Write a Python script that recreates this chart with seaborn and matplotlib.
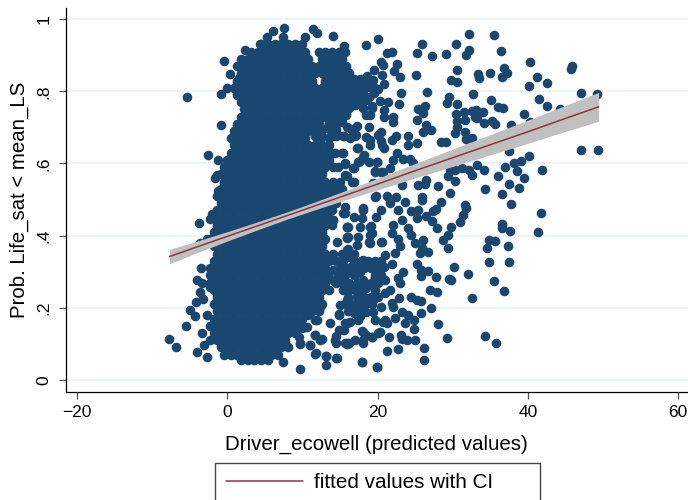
"""Scatter of life-satisfaction probability against predicted Driver_ecowell."""

import matplotlib
matplotlib.use("Agg")
import matplotlib.pyplot as plt
import pandas as pd
import seaborn as sns

# solid core of the cloud, read row by row: one y level and the x values on it
dense_levels = [.93, .91, .89, .87, .85, .83, .81, .79, .77, .75, .73, .71, .69, .67, .65, .63,
                .61, .59, .57, .55, .53, .51, .49, .47, .45, .43, .41, .39, .37, .35, .33, .31,
                .29, .27, .25, .23, .21, .19, .17, .15, .13, .11, .09, .07, .055]
dense_x = [
    [4.5, 5.4, 6.3, 7.2, 8.1, 9.0, 9.9],
    [3.15, 4.05, 4.95, 5.85, 6.75, 7.65, 8.55, 9.45, 10.35, 12.15, 13.05, 13.95, 14.85, 15.6],
    [1.8, 2.7, 3.6, 4.5, 5.4, 6.3, 7.2, 8.1, 9.0, 9.9, 10.8, 12.6, 13.5, 14.4, 15.3],
    [1.35, 2.25, 3.15, 4.05, 4.95, 5.85, 6.75, 7.65, 8.55, 9.45, 10.35, 11.25, 12.15, 13.05, 13.95, 14.85, 15.75],
    [1.8, 2.7, 3.6, 4.5, 5.4, 6.3, 7.2, 8.1, 9.0, 9.9, 10.8, 11.7, 12.6, 13.5, 14.4, 15.3, 16.2],
    [1.35, 2.25, 3.15, 4.05, 4.95, 5.85, 6.75, 7.65, 8.55, 9.45, 10.35, 11.25, 13.05, 13.95, 14.85, 15.75, 16.5],
    [0.9, 1.8, 2.7, 3.6, 4.5, 5.4, 6.3, 7.2, 8.1, 9.0, 9.9, 10.8, 11.7, 12.6, 13.5, 14.4, 15.3],
    [1.35, 2.25, 3.15, 4.05, 4.95, 5.85, 6.75, 7.65, 8.55, 9.45, 10.35, 11.25, 12.15, 13.05, 13.95, 14.85],
    [1.8, 2.7, 3.6, 4.5, 5.4, 6.3, 7.2, 8.1, 9.0, 9.9, 10.8, 11.7, 12.6, 13.5, 14.4],
    [2.25, 3.15, 4.05, 4.95, 5.85, 6.75, 7.65, 8.55, 9.45, 10.35, 11.25, 12.15, 13.05, 13.95],
    [1.8, 2.7, 3.6, 4.5, 5.4, 6.3, 7.2, 8.1, 9.0, 9.9, 10.8, 11.7, 12.6, 13.5],
    [1.35, 2.25, 3.15, 4.05, 4.95, 5.85, 6.75, 7.65, 8.55, 9.45, 10.35, 11.25, 12.15, 13.5],
    [0.9, 1.8, 2.7, 3.6, 4.5, 5.4, 6.3, 7.2, 8.1, 9.0, 9.9, 10.8, 11.7],
    [0.45, 1.35, 2.25, 3.15, 4.05, 4.95, 5.85, 6.75, 7.65, 8.55, 9.45, 10.35, 12.5, 13.5],
    [0.9, 1.8, 2.7, 3.6, 4.5, 5.4, 6.3, 7.2, 8.1, 9.0, 9.9, 10.8],
    [0.45, 1.35, 2.25, 3.15, 4.05, 4.95, 5.85, 6.75, 7.65, 8.55, 9.45, 10.35, 11.25],
    [0.0, 0.9, 1.8, 2.7, 3.6, 4.5, 5.4, 6.3, 7.2, 8.1, 9.0, 9.9, 10.8, 11.7],
    [-0.45, 0.45, 1.35, 2.25, 3.15, 4.05, 4.95, 5.85, 6.75, 7.65, 8.55, 9.45, 10.35],
    [-0.9, 0.0, 0.9, 1.8, 2.7, 3.6, 4.5, 5.4, 6.3, 7.2, 8.1, 9.0, 9.9, 10.8],
    [-0.45, 0.45, 1.35, 2.25, 3.15, 4.05, 4.95, 5.85, 6.75, 7.65, 8.55, 9.45, 10.35, 11.25],
    [-0.9, 0.0, 0.9, 1.8, 2.7, 3.6, 4.5, 5.4, 6.3, 7.2, 8.1, 9.0, 9.9, 10.8, 11.7],
    [-1.35, -0.45, 0.45, 1.35, 2.25, 3.15, 4.05, 4.95, 5.85, 6.75, 7.65, 8.55, 9.45, 10.35, 11.25, 12.15],
    [-0.9, 0.0, 0.9, 1.8, 2.7, 3.6, 4.5, 5.4, 6.3, 7.2, 8.1, 9.0, 9.9, 10.8, 11.7, 12.6],
    [-1.35, -0.45, 0.45, 1.35, 2.25, 3.15, 4.05, 4.95, 5.85, 6.75, 7.65, 8.55, 9.45, 10.35, 11.25, 12.15],
    [-1.8, -0.9, 0.0, 0.9, 1.8, 2.7, 3.6, 4.5, 5.4, 6.3, 7.2, 8.1, 9.0, 9.9, 10.8, 11.7, 12.6],
    [-1.35, -0.45, 0.45, 1.35, 2.25, 3.15, 4.05, 4.95, 5.85, 6.75, 7.65, 8.55, 9.45, 10.35, 11.25, 12.15, 13.05],
    [-1.8, -0.9, 0.0, 0.9, 1.8, 2.7, 3.6, 4.5, 5.4, 6.3, 7.2, 8.1, 9.0, 9.9, 10.8, 11.7, 12.6],
    [-2.25, -1.35, -0.45, 0.45, 1.35, 2.25, 3.15, 4.05, 4.95, 5.85, 6.75, 7.65, 8.55, 9.45, 10.35, 11.25, 12.15, 13.05],
    [-1.8, -0.9, 0.0, 0.9, 1.8, 2.7, 3.6, 4.5, 5.4, 6.3, 7.2, 8.1, 9.0, 9.9, 10.8, 11.7, 12.6],
    [-1.35, -0.45, 0.45, 1.35, 2.25, 3.15, 4.05, 4.95, 5.85, 6.75, 7.65, 8.55, 9.45, 10.35, 11.25, 12.15],
    [-1.8, -0.9, 0.0, 0.9, 1.8, 2.7, 3.6, 4.5, 5.4, 6.3, 7.2, 8.1, 9.0, 9.9, 10.8, 11.7],
    [-2.25, -1.35, -0.45, 0.45, 1.35, 2.25, 3.15, 4.05, 4.95, 5.85, 6.75, 7.65, 8.55, 9.45, 10.35, 11.25],
    [-1.8, -0.9, 0.0, 0.9, 1.8, 2.7, 3.6, 4.5, 5.4, 6.3, 7.2, 8.1, 9.0, 9.9, 10.8],
    [-2.25, -1.35, -0.45, 0.45, 1.35, 2.25, 3.15, 4.05, 4.95, 5.85, 6.75, 7.65, 8.55, 9.45, 10.35, 11.25],
    [-1.8, -0.9, 0.0, 0.9, 1.8, 2.7, 3.6, 4.5, 5.4, 6.3, 7.2, 8.1, 9.0, 9.9, 10.8],
    [-1.35, -0.45, 0.45, 1.35, 2.25, 3.15, 4.05, 4.95, 5.85, 6.75, 7.65, 8.55, 9.45, 10.35],
    [-1.8, -0.9, 0.0, 0.9, 1.8, 2.7, 3.6, 4.5, 5.4, 6.3, 7.2, 8.1, 9.0, 9.9, 10.8],
    [-1.35, -0.45, 0.45, 1.35, 2.25, 3.15, 4.05, 4.95, 5.85, 6.75, 7.65, 8.55, 9.45, 10.35],
    [-1.8, -0.9, 0.0, 0.9, 1.8, 2.7, 3.6, 4.5, 5.4, 6.3, 7.2, 8.1, 9.0, 9.9],
    [-2.25, -1.35, -0.45, 0.45, 1.35, 2.25, 3.15, 4.05, 4.95, 5.85, 6.75, 7.65, 8.55, 9.45],
    [-1.8, -0.9, 0.0, 0.9, 1.8, 2.7, 3.6, 4.5, 5.4, 6.3, 7.2, 8.1, 9.0],
    [-1.35, -0.45, 0.45, 1.35, 2.25, 3.15, 4.05, 4.95, 5.85, 6.75, 7.65],
    [-0.9, 0.0, 0.9, 1.8, 2.7, 3.6, 4.5, 5.4, 6.3, 7.2, 8.1],
    [-0.45, 0.45, 1.35, 2.25, 3.15, 4.05, 4.95, 5.85, 6.75],
    [1.8, 2.7, 3.6, 4.5, 5.4],
]

# the thick shoulder right of the core, x from about 11 to 21
shoulder_points = [
    (16.8, .835), (17.7, .835), (18.6, .835), (15.8, .815), (16.7, .815), (17.6, .815), (18.5, .815),
    (19.4, .815), (15.3, .795), (16.2, .795), (17.1, .795), (18.0, .795), (19.5, .795), (14.8, .775),
    (15.7, .775), (16.6, .775), (17.5, .775), (18.4, .775), (14.4, .755), (15.3, .755), (16.2, .755),
    (18.0, .755), (19.2, .755), (14.0, .735), (14.9, .735), (15.8, .735), (18.5, .735), (13.5, .715),
    (14.4, .715), (15.3, .715), (12.6, .695), (13.5, .695), (14.4, .695), (16.5, .695), (14.5, .675),
    (15.4, .675), (11.7, .675), (12.6, .675), (14.0, .675), (15.5, .675), (17.0, .675),
    (15.4, .629), (15.7, .601), (16.7, .587), (15.7, .568), (16.6, .549), (17.4, .643), (18.0, .619),
    (17.4, .604), (19.9, .604), (19.6, .577), (20.7, .577), (19.6, .507), (15.7, .480), (14.1, .444),
    (15.7, .462), (16.0, .424), (18.0, .477), (17.9, .449), (19.0, .424), (17.4, .396), (15.9, .394),
    (19.2, .408), (20.6, .383), (19.0, .380), (14.6, .383), (14.7, .679), (16.3, .671), (17.1, .680),
    (12.3, .685), (19.0, .665), (20.0, .679), (20.6, .652), (14.3, .629), (14.7, .590),
    (11.7, .650), (12.6, .650), (13.5, .650), (11.25, .630), (12.2, .630), (13.1, .630), (14.0, .630),
    (12.6, .610), (13.5, .610), (11.25, .590), (12.15, .590), (13.05, .590), (14.0, .590), (11.7, .570),
    (12.6, .570), (11.25, .550), (12.15, .550), (13.05, .550), (14.0, .550), (15.0, .550), (12.6, .530),
    (13.5, .530), (14.4, .530), (15.3, .530), (13.05, .510), (14.0, .510), (15.0, .510), (13.5, .490),
    (14.4, .490), (13.05, .470), (13.9, .470), (13.5, .450), (13.05, .430), (13.9, .430),
    (13.05, .350), (14.0, .350), (12.6, .330), (13.5, .330), (14.4, .330), (12.15, .310), (13.05, .310),
    (11.7, .290), (12.6, .290), (13.4, .290), (12.15, .270), (13.05, .270), (11.7, .250), (12.6, .250),
    (11.25, .230), (12.15, .230), (11.7, .210), (12.6, .210), (11.25, .190), (12.15, .190),
    (16.9, .330), (17.8, .330), (18.7, .330), (19.6, .330), (20.5, .330), (17.3, .310), (18.2, .310),
    (19.1, .310), (20.0, .310), (17.0, .290), (19.6, .290), (20.5, .290), (17.3, .270), (18.2, .270),
    (19.1, .270), (20.0, .270), (17.0, .250), (17.9, .250), (19.6, .250), (16.0, .230), (17.3, .230),
    (18.2, .230), (19.1, .230), (20.0, .230), (15.6, .210), (16.5, .210), (17.4, .210), (18.3, .210),
    (19.2, .210), (16.0, .190), (17.0, .190), (18.0, .190),
    (15.2, .350), (16.1, .350), (16.9, .350), (15.4, .330), (15.0, .310), (16.0, .310), (14.7, .290),
    (15.6, .290), (14.4, .270), (15.3, .270), (16.2, .270), (15.4, .250), (16.2, .250),
    (14.8, .184), (15.6, .157), (14.8, .138), (14.3, .110), (15.9, .101), (17.0, .110), (18.1, .134),
    (18.1, .110), (19.2, .120), (20.3, .134), (20.7, .161), (11.7, .124), (12.3, .110), (9.7, .101),
    (11.0, .097), (9.9, .143), (11.7, .166), (10.6, .147), (16.3, .161), (17.4, .166), (18.5, .189),
    (19.6, .166), (11.7, .073), (13.2, .066), (14.5, .062), (17.9, .050), (19.9, .036),
]

# single points along the left edge and the top of the cloud
edge_points = [
    (-7.7, .113), (-6.8, .091), (-5.5, .149), (-5.0, .194), (-4.3, .178), (-4.2, .217), (-3.2, .225),
    (-3.6, .245), (-4.0, .277), (-3.4, .270), (-3.5, .311), (-2.3, .291), (-2.3, .259), (-3.8, .436),
    (-2.3, .445), (-2.0, .460), (-4.0, .078), (-2.7, .065), (-3.1, .097), (-3.4, .129), (-2.7, .180),
    (-2.3, .111), (-3.6, .379), (-2.7, .390), (-5.4, .784), (-0.5, .883), (0.4, .848), (1.6, .838),
    (-0.8, .793), (-0.1, .809), (-0.9, .706), (-2.5, .624), (-1.3, .610), (-1.6, .559), (-1.4, .568),
    (-0.4, .545), (-1.2, .525), (2.4, .915), (6.1, .968), (7.6, .975), (5.3, .952), (11.4, .972),
    (11.9, .961), (14.0, .954), (15.5, .926), (10.4, .952), (7.4, .952), (4.4, .931),
]

# fringe below the cloud and on its right side
fringe_points = [
    (14.1, .444), (15.9, .397), (15.9, .360), (13.5, .342), (14.1, .305), (14.1, .277), (13.5, .249),
    (15.9, .305), (15.9, .222), (15.0, .208), (14.8, .180), (13.7, .159), (15.9, .157), (15.5, .139),
    (14.4, .122), (14.4, .102), (15.9, .102), (12.6, .113), (11.7, .125), (11.0, .097), (11.8, .074),
    (13.2, .067), (14.6, .062), (13.2, .041), (9.7, .030), (7.4, .049), (9.7, .102), (9.5, .120),
    (10.4, .148), (11.9, .166), (12.4, .203), (10.8, .180), (11.7, .231), (12.6, .249), (15.5, .462),
    (15.9, .425),
]

# separate points above the fit line, right of the cloud
upper_points = [
    (18.45, .929), (20.0, .945), (21.2, .906), (21.9, .909), (20.4, .881), (20.7, .873), (22.6, .875),
    (22.2, .857), (23.0, .840), (20.6, .845), (19.5, .859), (18.6, .843), (19.4, .832), (20.8, .820),
    (20.1, .806), (18.8, .811), (18.8, .785), (23.1, .795), (22.9, .765), (20.3, .774), (21.4, .771),
    (17.0, .762), (19.2, .758), (20.8, .749), (19.0, .735), (20.8, .730), (22.0, .730), (22.1, .716),
    (15.9, .702), (17.2, .704), (18.8, .702), (20.5, .688), (17.0, .679), (18.4, .673), (22.4, .675),
    (21.9, .665), (20.5, .661), (19.0, .650), (17.3, .642), (20.8, .642), (15.3, .630), (18.2, .624),
    (22.6, .630), (17.6, .608), (18.8, .603), (19.9, .603), (15.7, .599), (16.8, .587), (19.6, .579),
    (20.4, .577), (21.6, .587), (22.1, .610), (23.4, .612), (24.3, .612), (24.7, .601), (15.9, .564),
    (16.8, .550), (19.4, .545), (23.2, .541), (25.4, .541), (26.4, .554), (26.3, .543), (28.0, .538),
    (29.6, .519), (25.9, .508), (21.2, .510), (22.5, .508), (19.8, .510),
    (25.9, .931), (25.2, .905), (27.2, .898), (29.1, .904), (30.4, .931), (32.2, .959), (32.1, .915),
    (31.7, .900), (35.5, .955), (36.4, .913), (40.3, .881), (45.9, .871), (45.7, .861), (25.1, .846),
    (30.5, .858), (29.7, .832), (30.5, .826), (33.3, .847), (33.5, .836), (35.0, .850), (36.8, .866),
    (37.2, .850), (36.6, .839), (41.2, .839), (42.5, .824), (40.2, .814), (26.6, .798), (32.7, .794),
    (47.0, .796), (49.2, .794), (29.5, .785), (29.3, .769), (30.6, .765), (35.1, .776), (41.5, .778),
    (36.0, .757), (36.7, .753), (42.5, .759), (44.3, .751), (26.3, .758), (25.4, .750), (26.1, .741),
    (30.4, .736), (31.5, .744), (32.5, .746), (33.1, .747), (34.0, .744), (39.5, .737), (25.3, .720),
    (30.6, .719), (31.6, .721), (32.9, .728), (33.2, .725), (34.1, .712), (35.2, .719), (35.6, .709),
    (37.7, .706), (40.3, .716), (26.5, .707), (27.1, .693), (26.1, .688), (30.3, .684), (30.6, .702),
    (31.6, .688), (31.8, .667), (32.5, .671), (24.1, .676), (24.0, .652), (25.3, .658), (28.5, .659),
    (29.1, .659), (47.0, .638), (49.3, .637), (37.5, .636), (40.1, .622), (39.1, .607), (38.2, .600),
    (36.9, .589), (36.0, .566), (38.5, .578), (39.5, .561), (41.9, .581), (34.1, .582), (33.2, .596),
    (32.5, .568), (32.1, .582), (31.2, .587), (30.3, .582), (29.4, .564), (30.3, .552), (37.5, .543),
    (38.8, .533), (34.3, .529), (36.6, .515), (29.6, .582),
]

# separate points below the fit line, right of the cloud
lower_points = [
    (37.7, .488), (41.8, .464), (41.4, .409), (31.6, .486), (31.7, .476), (31.3, .456), (31.0, .437),
    (29.8, .423), (28.5, .492), (27.8, .473), (27.4, .469), (26.5, .455), (27.2, .441), (27.9, .420),
    (36.6, .432), (36.5, .420), (37.6, .413), (29.4, .402), (28.7, .388), (29.4, .365), (34.8, .388),
    (35.6, .385), (34.6, .367), (37.4, .372), (34.8, .327), (37.5, .326), (30.2, .313), (32.0, .294),
    (29.5, .281), (29.8, .276), (27.8, .285), (35.5, .273), (36.8, .247), (32.5, .227), (27.0, .249),
    (27.9, .244), (26.7, .301), (25.8, .288), (25.2, .322), (25.8, .305), (27.1, .200), (25.8, .185),
    (25.8, .219), (24.4, .229), (25.2, .222), (28.1, .155), (29.3, .116), (34.3, .122), (35.7, .102),
    (26.2, .088), (26.2, .054), (24.9, .141), (25.0, .110), (23.9, .110), (23.1, .125), (23.2, .113),
    (22.7, .086), (21.3, .080), (21.5, .118), (20.1, .129), (19.2, .118), (18.5, .125), (17.9, .137),
    (18.0, .102), (16.2, .103), (15.7, .102), (17.9, .051), (19.9, .035), (21.0, .166), (21.2, .157),
    (22.3, .171), (23.6, .159), (24.8, .166), (24.1, .180), (23.2, .189), (22.8, .226), (21.9, .212),
    (22.1, .203), (20.5, .203), (19.4, .189), (17.6, .176), (16.8, .185), (16.1, .222), (18.1, .226),
    (19.4, .222), (21.0, .240), (21.6, .249), (18.5, .254), (17.6, .263), (16.3, .259), (21.0, .277),
    (19.6, .285), (18.1, .277), (23.4, .300), (22.7, .282), (23.0, .268), (16.8, .291), (17.6, .300),
    (16.5, .314), (20.8, .314), (21.9, .322), (20.1, .319), (18.1, .333), (21.0, .347), (22.3, .353),
    (16.1, .342), (25.6, .351), (26.7, .356), (26.1, .388), (25.0, .379), (25.9, .365), (24.5, .402),
    (24.1, .420), (23.0, .370), (22.7, .390), (21.9, .407), (22.1, .430), (23.2, .444), (19.0, .402),
    (18.8, .383), (20.5, .382), (17.2, .374), (16.1, .362), (16.0, .395), (15.9, .425), (17.7, .425),
    (16.8, .453), (18.0, .471), (19.1, .427), (19.8, .453), (20.5, .471), (21.6, .490), (22.7, .471),
    (24.5, .467), (25.4, .471), (25.2, .448), (25.9, .499), (15.4, .462), (23.6, .494),
]

# fit line and its confidence band
fit_x = [-7.7, -4, 0, 4, 8, 12, 16, 20, 25, 30, 35, 40, 45, 49.4]
fit_y = [.342, .369, .398, .427, .456, .485, .514, .543, .580, .616, .652, .688, .725, .757]
ci_low = [.322, .353, .385, .416, .446, .474, .501, .527, .560, .592, .624, .656, .689, .717]
ci_high = [.362, .385, .411, .438, .466, .496, .527, .559, .600, .640, .680, .720, .761, .797]

x_ticks = [-20, 0, 20, 40, 60]
y_ticks = [0, .2, .4, .6, .8, 1]
y_tick_labels = ["0", ".2", ".4", ".6", ".8", "1"]

NAVY = "#1a476f"
MAROON = "#90353b"
BAND = "#c0c0c0"
GRID = "#eaf2f3"


def load_points() -> pd.DataFrame:
    """Put the core rows and the single points into one table."""
    rows = [(x, y) for y, xs in zip(dense_levels, dense_x) for x in xs]
    rows += shoulder_points + edge_points + fringe_points + upper_points + lower_points
    return pd.DataFrame(rows, columns=["driver_ecowell", "prob_life_sat"])


sns.set_theme(style="white")
plt.rcParams["font.family"] = ["Liberation Sans", "DejaVu Sans"]

fig = plt.figure(figsize=(6.88, 5), dpi=100)
ax = fig.add_axes([65.7 / 688, 1 - 391.5 / 500, (688 - 65.7) / 688, (391.5 - 8) / 500])

sns.scatterplot(data=load_points(), x="driver_ecowell", y="prob_life_sat", color=NAVY,
                s=48, linewidth=0, ax=ax, zorder=3, legend=False)
ax.fill_between(fit_x, ci_low, ci_high, color=BAND, linewidth=0, zorder=4)
sns.lineplot(x=fit_x, y=fit_y, color=MAROON, linewidth=1.1, ax=ax, zorder=5,
             label="fitted values with CI")

ax.set_xlim(-21.5, 61.3)
ax.set_ylim(-0.032, 1.031)
ax.set_xticks(x_ticks)
ax.set_yticks(y_ticks)
ax.set_yticklabels(y_tick_labels, rotation=90, va="center")
ax.grid(axis="y", color=GRID, linewidth=1.2, zorder=0)
ax.grid(axis="x", visible=False)
ax.set_axisbelow(True)
ax.tick_params(axis="both", length=5, width=0.9, color="#555555", labelcolor="black",
               labelsize=12.5, left=True, bottom=True, pad=5)
sns.despine(ax=ax)
for side in ["left", "bottom"]:
    ax.spines[side].set_color("black")
    ax.spines[side].set_linewidth(0.9)

ax.set_xlabel("Driver_ecowell (predicted values)", fontsize=14.8, labelpad=10, color="black")
ax.set_ylabel("Prob. Life_sat < mean_LS", fontsize=14.7, labelpad=5.5, color="black")

# the box runs past the bottom of the picture, as in the original export
ax.legend(loc="upper left", bbox_to_anchor=(215 / 688, 1 - 462.7 / 500, 325 / 688, 0),
          bbox_transform=fig.transFigure, mode="expand", borderaxespad=0, borderpad=0.52,
          handlelength=3.72, handletextpad=0.55, fontsize=14.9, fancybox=False, framealpha=1,
          edgecolor="#444444", labelcolor="black")

fig.savefig("out.png", dpi=100)
